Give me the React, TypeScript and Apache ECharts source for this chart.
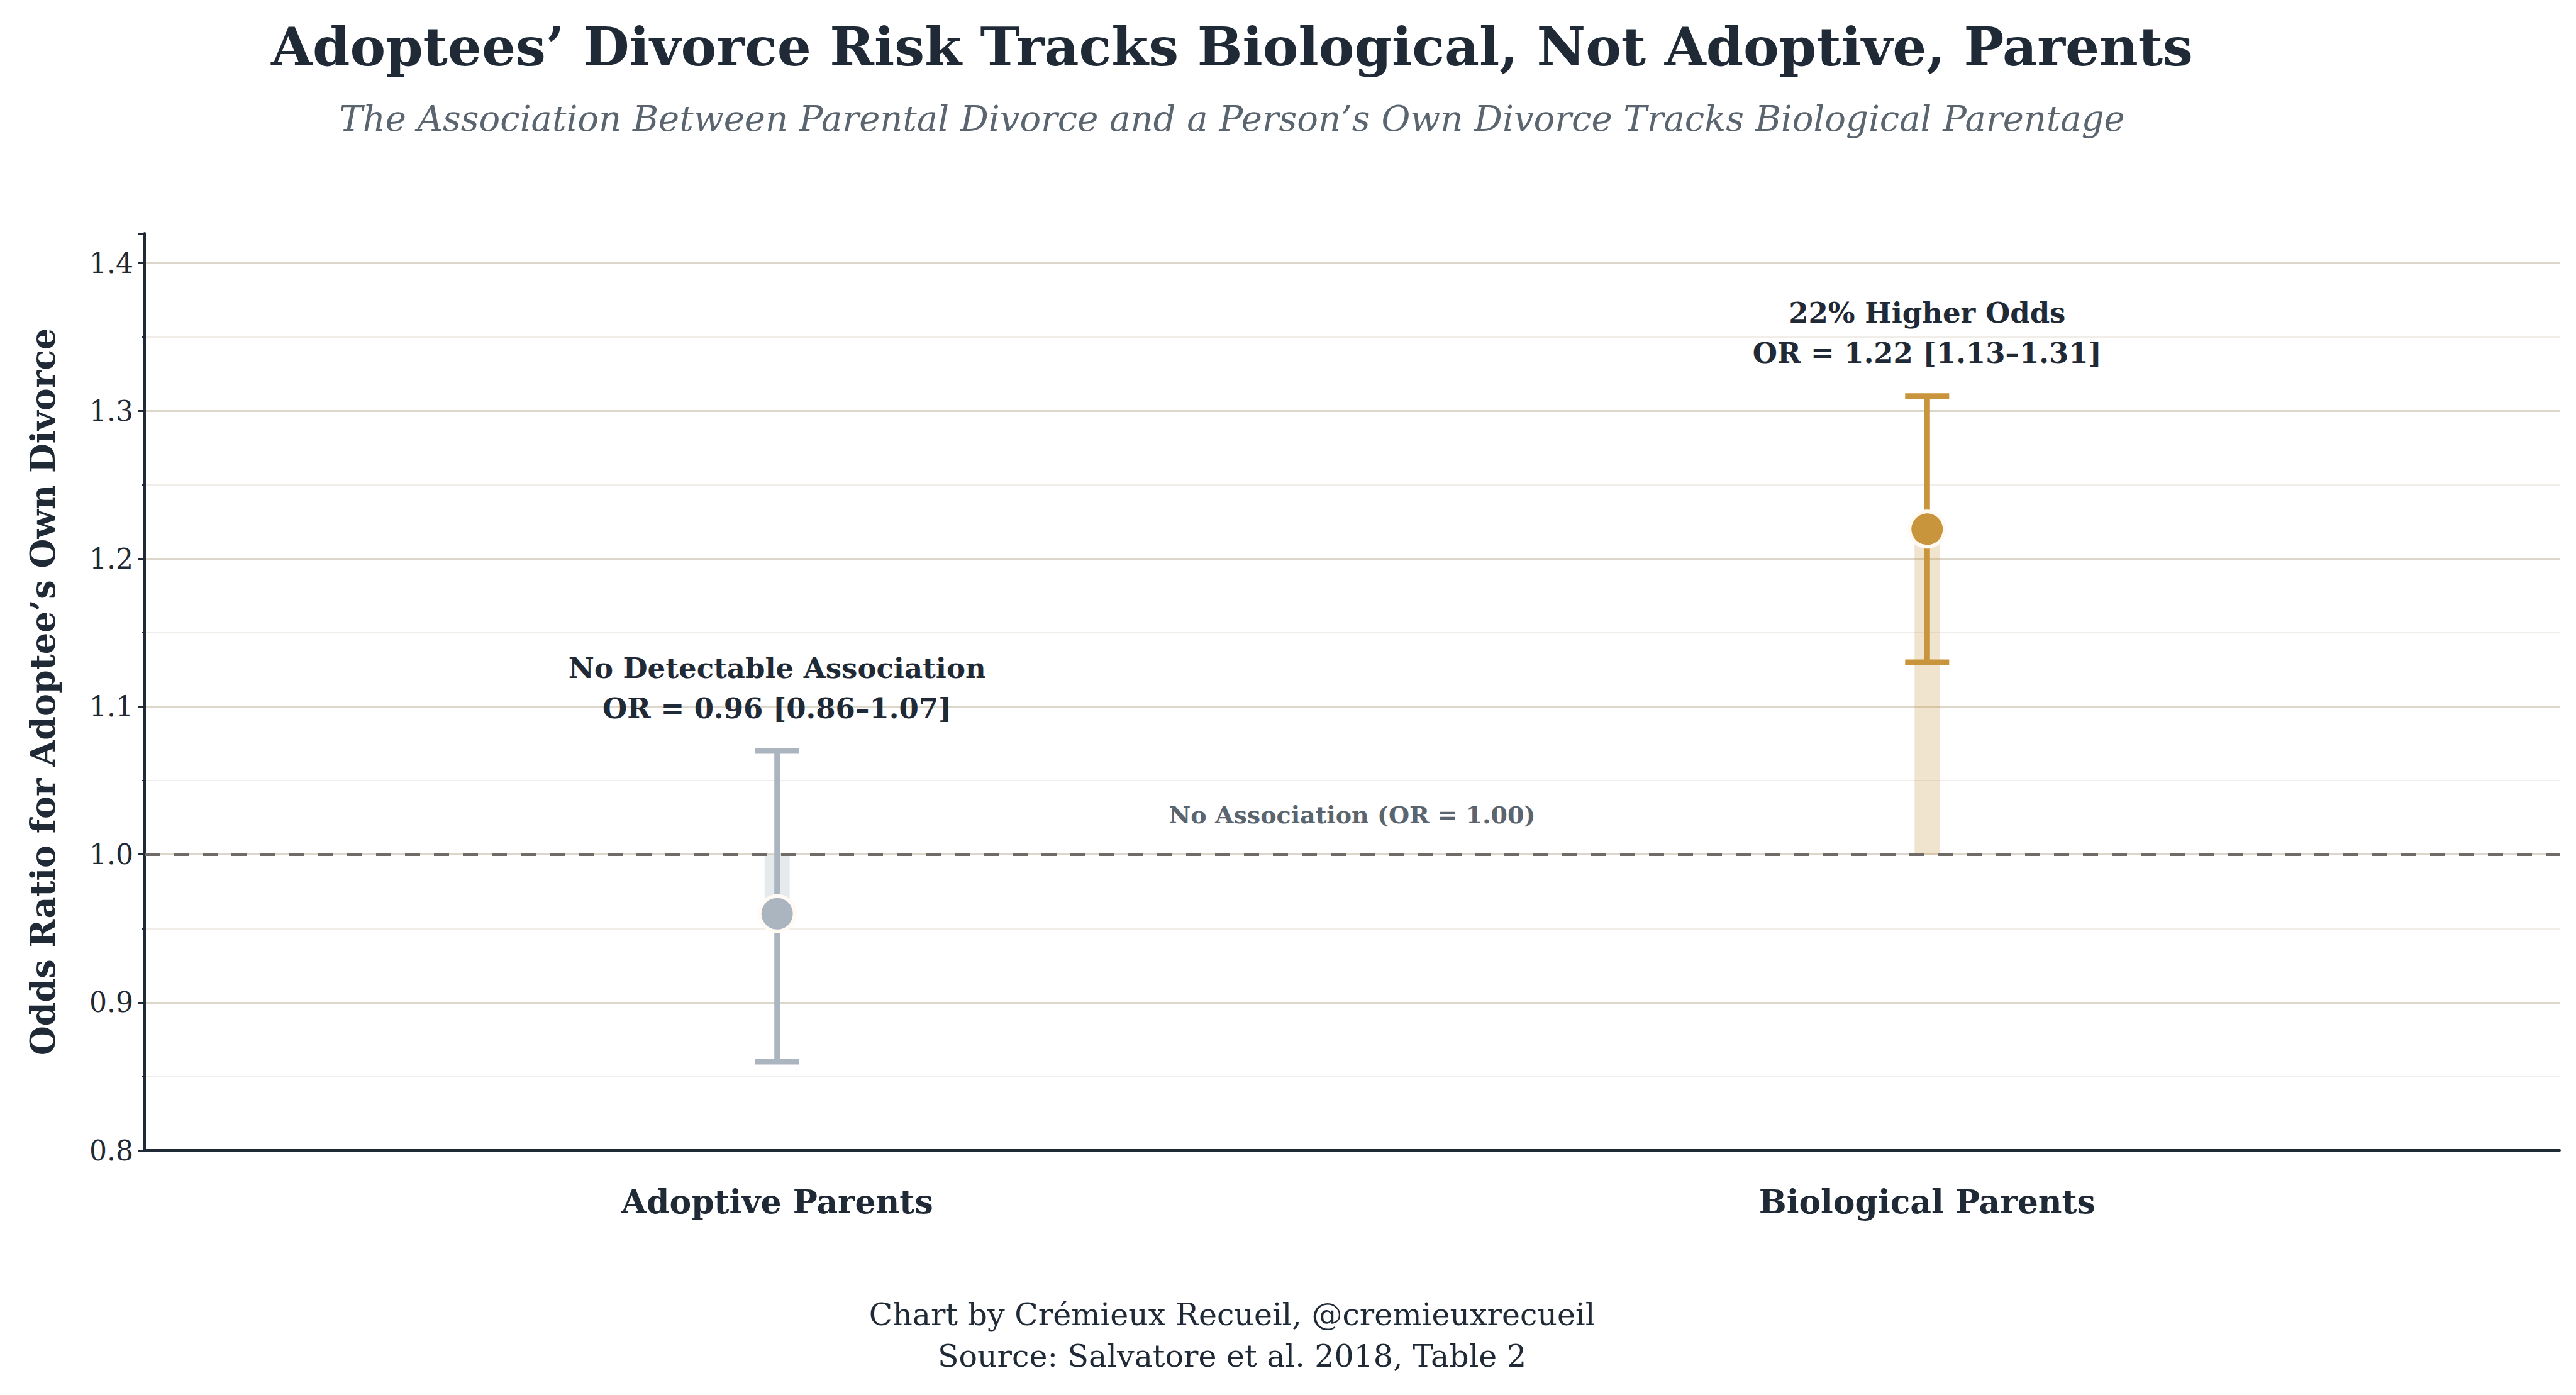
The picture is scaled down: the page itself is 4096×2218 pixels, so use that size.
import { useEffect, useRef } from 'react';
import * as echarts from 'echarts';

const categories = ['Adoptive Parents', 'Biological Parents'];
const oddsRatio = [0.96, 1.22];
const ciLow = [0.86, 1.13];
const ciHigh = [1.07, 1.31];
const headlines = ['No Detectable Association', '22% Higher Odds'];
const yTicks = [0.8, 0.9, 1.0, 1.1, 1.2, 1.3, 1.4];
const reference = 1.0;

const colors = ['#aab5c0', '#c8943c'];
const fillColors = ['rgba(170,181,192,0.28)', 'rgba(200,148,60,0.25)'];
const FONT = "'DejaVu Serif', 'Liberation Serif', serif";
const INK = '#1f2a36';

const App = () => {
    const chartRef = useRef<HTMLDivElement>(null);

    useEffect(() => {
        document.body.style.margin = '0';
        if (!chartRef.current) return;
        const myChart = echarts.init(chartRef.current, null, { renderer: 'svg' });

        const points = oddsRatio.map((v, i) => ({
            value: [i, v],
            itemStyle: { color: colors[i], opacity: 1 }
        }));
        const bars = oddsRatio.map((v, i) => [i, v]);
        const whiskers = oddsRatio.map((v, i) => [i, ciLow[i], ciHigh[i]]);

        const option = {
            animation: false,
            backgroundColor: '#ffffff',
            textStyle: { fontFamily: FONT },
            title: [
                {
                    text: 'Adoptees’ Divorce Risk Tracks Biological, Not Adoptive, Parents',
                    left: 1954, top: 26, textAlign: 'center',
                    textStyle: { fontFamily: FONT, fontSize: 85, fontWeight: 'bold', color: INK }
                },
                {
                    text: 'The Association Between Parental Divorce and a Person’s Own Divorce Tracks Biological Parentage',
                    left: 1954, top: 155, textAlign: 'center',
                    textStyle: { fontFamily: FONT, fontSize: 56, fontStyle: 'italic', fontWeight: 'normal', color: '#5a6570' }
                },
                {
                    text: 'Chart by Crémieux Recueil, @cremieuxrecueil\nSource: Salvatore et al. 2018, Table 2',
                    left: 1954, top: 2052, textAlign: 'center',
                    textStyle: { fontFamily: FONT, fontSize: 49, lineHeight: 66, fontWeight: 'normal', color: INK }
                }
            ],
            grid: { left: 230, right: 26, top: 371, bottom: 389 },
            xAxis: {
                type: 'value',
                min: -0.55,
                max: 1.55,
                axisLine: { show: true, onZero: false, lineStyle: { color: INK, width: 4 } },
                axisTick: { show: false },
                splitLine: { show: false },
                axisLabel: {
                    customValues: [0, 1],
                    formatter: (v: number) => categories[Math.round(v)] ?? '',
                    margin: 55,
                    fontFamily: FONT, fontSize: 52, fontWeight: 'bold', color: INK
                }
            },
            yAxis: {
                type: 'value',
                min: 0.8,
                max: 1.42,
                interval: 0.1,
                name: 'Odds Ratio for Adoptee’s Own Divorce',
                nameLocation: 'middle',
                nameGap: 135,
                nameRotate: 90,
                nameTextStyle: { fontFamily: FONT, fontSize: 54, fontWeight: 'bold', color: INK },
                axisLine: { show: true, onZero: false, lineStyle: { color: INK, width: 4 } },
                axisTick: { show: true, length: 10, lineStyle: { color: INK, width: 3 } },
                minorTick: { show: true, splitNumber: 2, length: 5, lineStyle: { color: INK, width: 2 } },
                splitLine: { show: true, showMaxLine: false, showMinLine: false, lineStyle: { color: '#ddd6ca', width: 3 } },
                minorSplitLine: { show: true, lineStyle: { color: '#f1eeea', width: 2 } },
                axisLabel: {
                    customValues: yTicks,
                    formatter: (v: number) => v.toFixed(1),
                    margin: 18,
                    fontFamily: FONT, fontSize: 44, color: INK
                }
            },
            series: [
                {
                    // light fill from OR = 1 to point estimate
                    type: 'custom',
                    z: 2,
                    data: bars,
                    renderItem: (params: any, api: any) => {
                        const i = api.value(0);
                        const base = api.coord([i, reference]);
                        const top = api.coord([i, api.value(1)]);
                        const w = 40;
                        return {
                            type: 'rect',
                            shape: { x: base[0] - w / 2, y: Math.min(base[1], top[1]), width: w, height: Math.abs(base[1] - top[1]) },
                            style: { fill: fillColors[i] }
                        };
                    }
                },
                {
                    type: 'line',
                    z: 3,
                    data: [],
                    markLine: {
                        silent: true,
                        symbol: 'none',
                        data: [{ yAxis: reference }],
                        lineStyle: { color: '#6f6b68', width: 4, type: [24, 22] },
                        label: {
                            show: true,
                            position: 'insideMiddleTop',
                            distance: 44,
                            formatter: 'No Association (OR = 1.00)',
                            fontFamily: FONT, fontSize: 38, fontWeight: 'bold', color: '#5a6570'
                        }
                    }
                },
                {
                    // confidence interval whiskers with caps and annotation
                    type: 'custom',
                    z: 4,
                    data: whiskers,
                    renderItem: (params: any, api: any) => {
                        const i = api.value(0);
                        const lo = api.coord([i, api.value(1)]);
                        const hi = api.coord([i, api.value(2)]);
                        const cap = 35;
                        const stroke = { stroke: colors[i], lineWidth: 9 };
                        return {
                            type: 'group',
                            children: [
                                { type: 'line', shape: { x1: lo[0], y1: lo[1], x2: hi[0], y2: hi[1] }, style: stroke },
                                { type: 'line', shape: { x1: lo[0] - cap, y1: lo[1], x2: lo[0] + cap, y2: lo[1] }, style: stroke },
                                { type: 'line', shape: { x1: hi[0] - cap, y1: hi[1], x2: hi[0] + cap, y2: hi[1] }, style: stroke },
                                {
                                    type: 'text',
                                    x: hi[0],
                                    y: hi[1] - 36,
                                    style: {
                                        text: headlines[i] + '\nOR = ' + oddsRatio[i].toFixed(2) + ' [' + ciLow[i].toFixed(2) + '–' + ciHigh[i].toFixed(2) + ']',
                                        align: 'center',
                                        verticalAlign: 'bottom',
                                        fontFamily: FONT,
                                        fontSize: 45,
                                        fontWeight: 'bold',
                                        lineHeight: 64,
                                        fill: INK
                                    }
                                }
                            ]
                        };
                    }
                },
                {
                    type: 'scatter',
                    z: 5,
                    symbolSize: 56,
                    itemStyle: { borderColor: '#fffaf3', borderWidth: 6, opacity: 1 },
                    data: points
                }
            ]
        };

        myChart.setOption(option as any);

        return () => {
            myChart.dispose();
        };
    }, []);

    return <div ref={chartRef} style={{ width: '4096px', height: '2218px' }} />;
};

export default App;
